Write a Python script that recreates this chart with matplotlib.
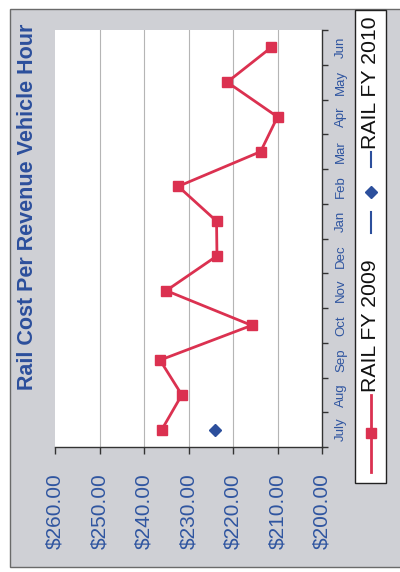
import matplotlib
matplotlib.use("Agg")
import matplotlib.pyplot as plt
from matplotlib.lines import Line2D
from matplotlib.patches import Rectangle

plt.rcParams['font.family'] = ['Liberation Sans', 'DejaVu Sans']

# Monthly rail cost per revenue vehicle hour (fiscal year starts in July)
months = ["July", "Aug", "Sep", "Oct", "Nov", "Dec",
          "Jan", "Feb", "Mar", "Apr", "May", "Jun"]
fy2009 = [236.0, 231.5, 236.4, 215.8, 235.0, 223.6,
          223.7, 232.3, 213.8, 210.0, 221.3, 211.4]
fy2010 = [224.0]
value_ticks = [260, 250, 240, 230, 220, 210, 200]
title = "Rail Cost Per Revenue Vehicle Hour"
series_names = ["RAIL FY 2009", "RAIL FY 2010"]

RED = "#db3150"
BLUE = "#2c4f9c"
LABEL_BLUE = "#2f55a0"
FRAME_GRAY = "#cfd0d5"

W, H = 400, 572
fig = plt.figure(figsize=(W / 100, H / 100), dpi=100)
fig.patch.set_facecolor("white")

def fx(px):
    return px / W

def fy(py):
    return (H - py) / H

# gray chart frame
fig.add_artist(Rectangle((fx(10), fy(567)), fx(400) - fx(10) + 0.01, fy(9) - fy(567),
                         transform=fig.transFigure, facecolor=FRAME_GRAY,
                         edgecolor="#6a6a6a", linewidth=1.0, zorder=-5))

# plot area (the chart is laid out turned a quarter turn counter-clockwise)
ax = fig.add_axes([fx(55), fy(447), fx(322) - fx(55), fy(30) - fy(447)])
ax.set_zorder(1)
ax.set_facecolor("white")

pos = list(range(len(months)))
ax.plot(fy2009, pos, color=RED, lw=2.0, marker="s", markersize=7,
        markerfacecolor=RED, markeredgecolor=RED, zorder=3)
ax.plot(fy2010, pos[:len(fy2010)], color=BLUE, lw=1.5, linestyle=(0, (5, 3)),
        marker="D", markersize=6, markerfacecolor=BLUE, markeredgecolor=BLUE, zorder=3)

ax.set_xlim(260, 200)
ax.set_ylim(-0.5, len(months) - 0.5)

# value axis along the bottom
ax.set_xticks(value_ticks)
ax.set_xticklabels([f"${v:.2f}" for v in value_ticks], rotation=90,
                   color=LABEL_BLUE, fontsize=15)
ax.tick_params(axis="x", direction="out", length=5, width=1, pad=14, colors="#333333",
               labelcolor=LABEL_BLUE)
for v in value_ticks[1:-1]:
    ax.axvline(v, color="#b5b5b5", lw=0.8, zorder=1)

# month axis along the right edge, tick marks between categories
ax.yaxis.tick_right()
ax.set_yticks(pos)
ax.set_yticklabels(months, rotation=90, va="center", ha="left",
                   color=LABEL_BLUE, fontsize=9.5)
ax.set_yticks([p - 0.5 for p in pos] + [pos[-1] + 0.5], minor=True)
ax.tick_params(axis="y", which="major", length=0, pad=9.5, labelcolor=LABEL_BLUE)
ax.tick_params(axis="y", which="minor", direction="out", length=4, width=1, colors="#333333")

for side in ("top", "left"):
    ax.spines[side].set_visible(False)
for side in ("bottom", "right"):
    ax.spines[side].set_color("#333333")
    ax.spines[side].set_linewidth(1.0)

# title running up the left side
fig.text(fx(28), fy(207), title, rotation=90, ha="center", va="center",
         fontsize=15.5, fontweight="bold", color=BLUE)

# legend box on the right, entries reading bottom to top
fig.add_artist(Rectangle((fx(355), fy(483)), fx(386) - fx(355), fy(10) - fy(483),
                         transform=fig.transFigure, facecolor="white",
                         edgecolor="#222222", linewidth=1.0, zorder=2))
lx = fx(371)
fig.add_artist(Line2D([lx, lx], [fy(472), fy(395)], transform=fig.transFigure,
                      color=RED, lw=2.0, zorder=3))
fig.add_artist(Line2D([lx], [fy(433)], transform=fig.transFigure, marker="s",
                      markersize=7, color=RED, zorder=4))
fig.text(lx, fy(392), series_names[0], rotation=90, ha="center", va="bottom",
         fontsize=15.3, color="#111111", zorder=4)
for a, b in ((233, 212), (167, 152)):
    fig.add_artist(Line2D([lx, lx], [fy(a), fy(b)], transform=fig.transFigure,
                          color=BLUE, lw=1.5, zorder=3))
fig.add_artist(Line2D([lx], [fy(192)], transform=fig.transFigure, marker="D",
                      markersize=6, color=BLUE, zorder=4))
fig.text(lx, fy(149), series_names[1], rotation=90, ha="center", va="bottom",
         fontsize=15.3, color="#111111", zorder=4)

fig.savefig("out.png", dpi=100)
